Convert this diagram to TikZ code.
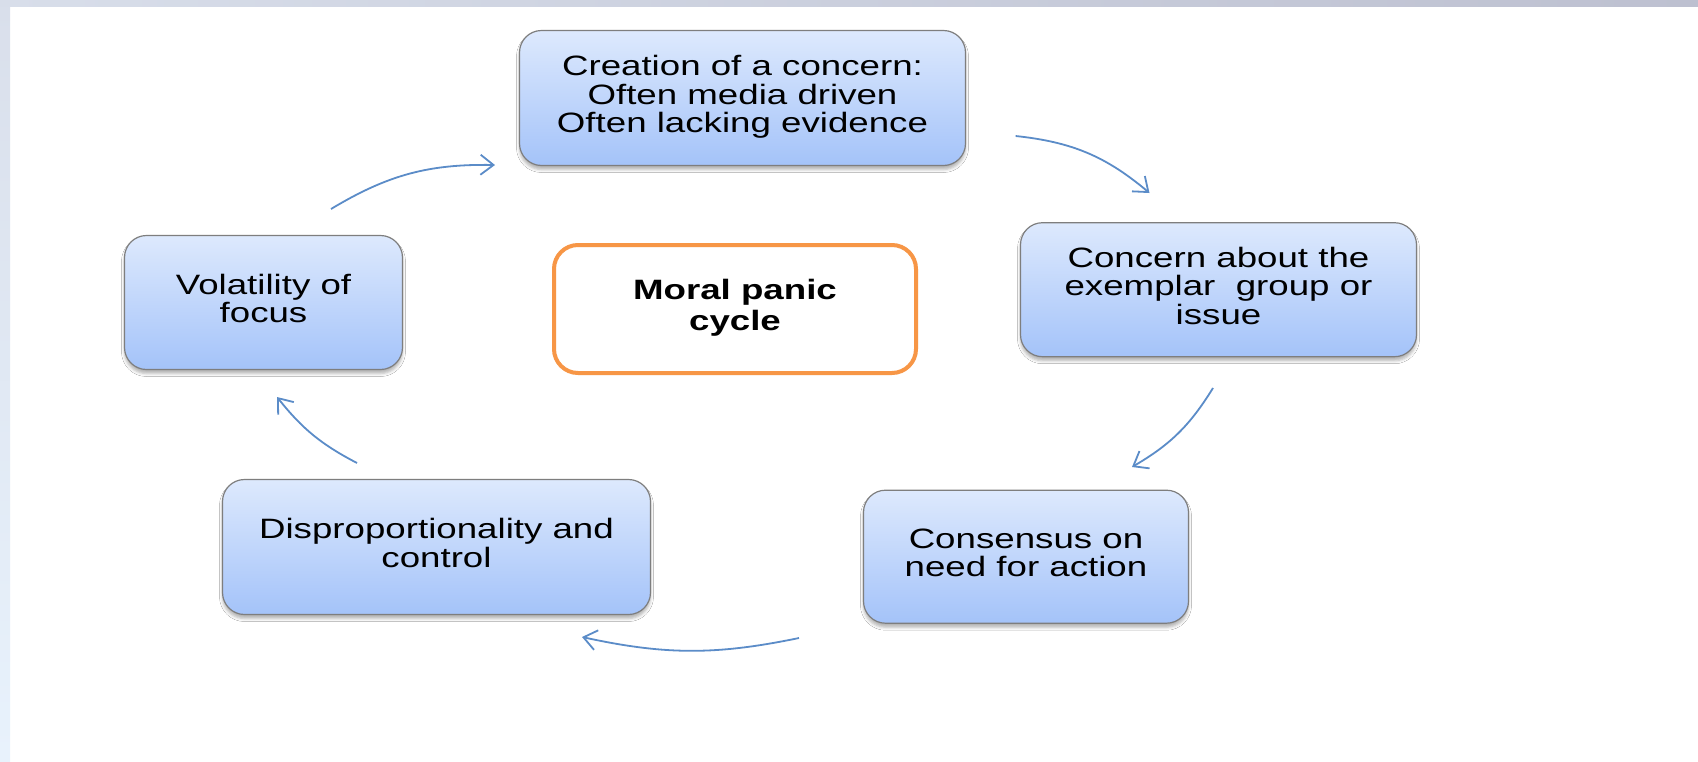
\documentclass[tikz,border=0pt]{standalone}
\usepackage{fontspec}
\setmainfont{Liberation Sans}
\usepackage{graphicx}
\usetikzlibrary{arrows.meta,shadows.blur}

\definecolor{boxtop}{HTML}{DDE9FD}
\definecolor{boxbot}{HTML}{A4C3F9}
\definecolor{boxline}{HTML}{7E7E7E}
\definecolor{arrowblue}{HTML}{5B8CC8}
\definecolor{panicorange}{HTML}{F79646}
\definecolor{frameleft}{HTML}{D8DEEA}
\definecolor{frameright}{HTML}{BDC0D0}
\definecolor{sidetop}{HTML}{D9DFEB}
\definecolor{sidebot}{HTML}{E8F2FC}

% centred, horizontally widened lines of a label; the optional argument
% adds room above the first line, which lowers the text in its box
\newcommand{\stagetext}[2][7pt]{\scalebox{1.31}[1]{\begin{tabular}{@{}c@{}}%
  \rule{0pt}{\dimexpr0.7\baselineskip+#1\relax}#2\end{tabular}}}

\tikzset{
  stagebox/.style={rectangle, rounded corners=22pt, draw=boxline, line width=1.2pt,
    top color=boxtop, bottom color=boxbot, inner sep=0pt,
    font=\fontsize{28}{27.5}\selectfont,
    blur shadow={shadow xshift=0pt, shadow yshift=-4pt, shadow blur radius=3pt,
      shadow opacity=30}},
  titlebox/.style={rectangle, rounded corners=24pt, draw=panicorange, line width=4pt,
    fill=white, inner sep=0pt, font=\fontsize{28}{30.5}\selectfont\bfseries},
  cycleflow/.style={draw=arrowblue, line width=1.8pt,
    -{Straight Barb[length=13pt,width=20pt,line width=1.8pt]}},
}

\begin{document}
\begin{tikzpicture}[x=1pt,y=1pt]
  \useasboundingbox (0,0) rectangle (1698,-761);

  % slide background with its thin frame strips
  \fill[white] (0,0) rectangle (1698,-761);
  \shade[top color=sidetop, bottom color=sidebot] (0,0) rectangle (10,-761);
  \shade[left color=frameleft, right color=frameright] (0,0) rectangle (1698,-6);

  % stages of the cycle
  \node[stagebox, minimum width=446pt, minimum height=135pt] (creation) at (742.5,-98)
    {\stagetext{Creation of a concern:\\Often media driven\\Often lacking evidence}};
  \node[stagebox, minimum width=396pt, minimum height=134pt] (concern) at (1218.5,-289.7)
    {\stagetext{Concern about the\\exemplar~ group or\\issue}};
  \node[stagebox, minimum width=325pt, minimum height=133pt] (consensus) at (1026,-556.7)
    {\stagetext[5pt]{Consensus on\\need for action}};
  \node[stagebox, minimum width=428pt, minimum height=135pt] (disprop) at (436.5,-547)
    {\stagetext{Disproportionality and\\control}};
  \node[stagebox, minimum width=278pt, minimum height=134pt] (volatility) at (263.5,-302.5)
    {\stagetext{Volatility of\\focus}};

  % title in the middle
  \node[titlebox, minimum width=362pt, minimum height=128pt] (panic) at (735,-309)
    {\stagetext[0pt]{Moral panic\\cycle}};

  % arrow ends
  \coordinate (a1) at (1015.6,-136);  \coordinate (a2) at (1149.5,-193);
  \coordinate (b1) at (1213,-388);    \coordinate (b2) at (1132,-467);
  \coordinate (c1) at (799,-638);     \coordinate (c2) at (582,-637);
  \coordinate (d1) at (357,-463);     \coordinate (d2) at (277,-397);
  \coordinate (e1) at (331,-209);     \coordinate (e2) at (495,-165);

  % clockwise flow between the stages
  \draw[cycleflow] (a1) to[bend left=17] (a2);
  \draw[cycleflow] (b1) to[bend left=14] (b2);
  \draw[cycleflow] (c1) to[bend left=12] (c2);
  \draw[cycleflow] (d1) to[bend left=12] (d2);
  \draw[cycleflow] (e1) to[bend left=16] (e2);
\end{tikzpicture}
\end{document}
